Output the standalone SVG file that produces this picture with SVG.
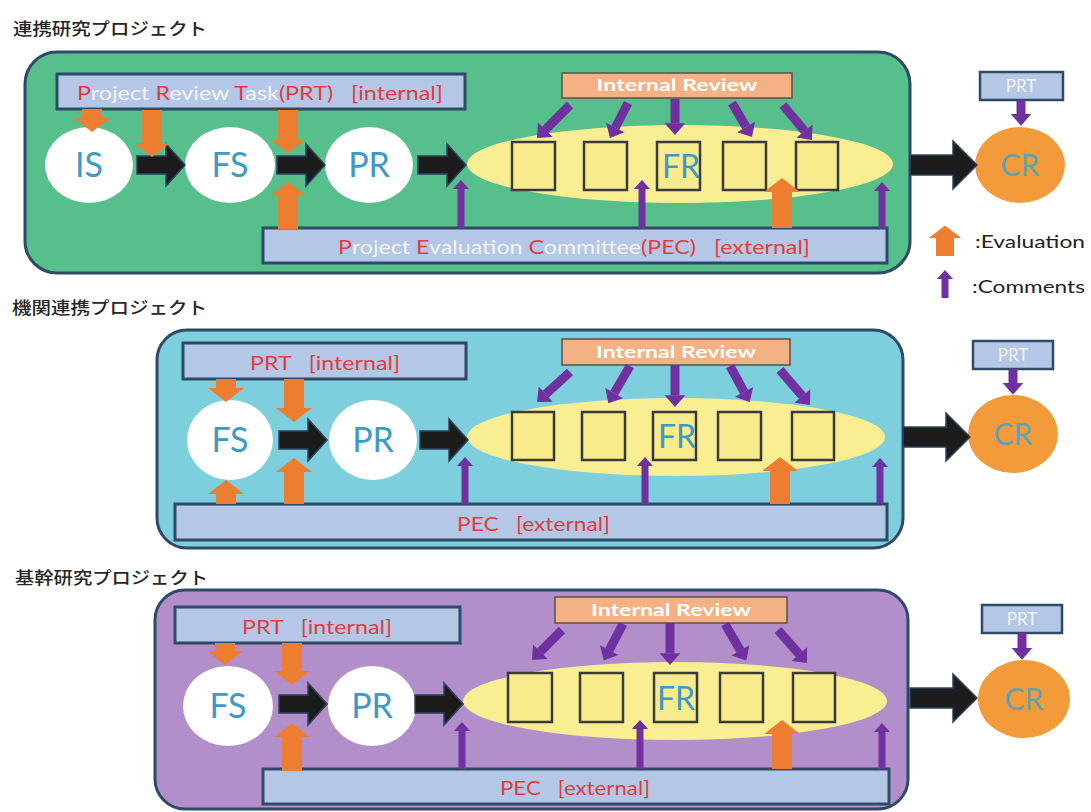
<svg xmlns="http://www.w3.org/2000/svg" xmlns:xlink="http://www.w3.org/1999/xlink" width="1091" height="812" viewBox="0 0 1091 812">
<style>
.title{font-family:"Noto Sans CJK JP","Noto Sans",sans-serif;font-size:17px;font-weight:500;fill:#262626;}
.cont{stroke:#2E4A66;stroke-width:3;}
.bar{fill:#B4C7E7;stroke:#2E4A66;stroke-width:3;}
.sbar{fill:#B4C7E7;stroke:#2E4A66;stroke-width:2.5;}
.ir{fill:#F4B183;stroke:#5C5048;stroke-width:1.5;}
.irt{font-family:Lato,"Liberation Sans",sans-serif;font-size:17px;font-weight:bold;fill:#fff;text-anchor:middle;}
.bt{font-family:Lato,"Liberation Sans",sans-serif;font-size:20px;fill:#E23C3C;white-space:pre;}
.w{fill:#F4F4F4;}
.circ{fill:#fff;}
.ct{font-family:Lato,"Liberation Sans",sans-serif;font-size:34px;fill:#3C9AC6;text-anchor:middle;}
.ell{fill:#F9EF92;}
.box{fill:#F8EB8C;stroke:#3A3A3A;stroke-width:2.5;}
.fr{font-family:Lato,"Liberation Sans",sans-serif;font-size:32px;fill:#3C9AC6;text-anchor:middle;}
.cr{fill:#F39B3A;}
.crt{font-family:Lato,"Liberation Sans",sans-serif;font-size:30px;fill:#5FA3AE;text-anchor:middle;}
.prt{font-family:Lato,"Liberation Sans",sans-serif;font-size:17px;fill:#F4F4F4;text-anchor:middle;}
.blk{fill:#1C1C1C;stroke:#2C4260;stroke-width:1.5;}
.org{stroke:#ED7D31;stroke-width:20;fill:none;marker-end:url(#mo);}
.pur{stroke:#7030A0;stroke-width:7;fill:none;marker-end:url(#mp);}
.pud{stroke:#7030A0;stroke-width:9;fill:none;marker-end:url(#mp);}
.leg{font-family:Lato,"Liberation Sans",sans-serif;font-size:18px;fill:#222;}
</style>
<defs>
<marker id="mo" markerUnits="strokeWidth" markerWidth="0.7" markerHeight="1.8" refX="0" refY="0.9" orient="auto" overflow="visible"><path d="M0,0 L0.7,0.9 L0,1.8 z" fill="#ED7D31"/></marker>
<marker id="mp" markerUnits="strokeWidth" markerWidth="1.3" markerHeight="2.3" refX="0" refY="1.15" orient="auto" overflow="visible"><path d="M0,0 L1.3,1.15 L0,2.3 z" fill="#7030A0"/></marker>
<path id="ba" d="M-48,-9 L-19,-9 L-19,-21 L0,0 L-19,21 L-19,9 L-48,9 z"/>
<path id="bac" d="M-67,-10 L-24,-10 L-24,-24 L0,0 L-24,24 L-24,10 L-67,10 z"/>
</defs>
<rect width="1091" height="812" fill="#fff"/>

<!-- ===== Section 1 ===== -->
<text class="title" x="13" y="35" textLength="194" lengthAdjust="spacingAndGlyphs">連携研究プロジェクト</text>
<g id="s1-container"><rect class="cont" x="25" y="52" width="885" height="221" rx="32" fill="#57BF8C"/></g>
<g id="s1-prt"><rect class="bar" x="57" y="74" width="408" height="35"/>
<text class="bt" xml:space="preserve" x="77" y="100" textLength="366" lengthAdjust="spacingAndGlyphs">P<tspan class="w">roject </tspan>R<tspan class="w">eview </tspan>T<tspan class="w">ask</tspan>(PRT)   [internal]</text></g>
<g id="s1-ir"><rect class="ir" x="562" y="73" width="230" height="25"/><text class="irt" x="677" y="91" textLength="161" lengthAdjust="spacingAndGlyphs">Internal Review</text></g>
<g id="s1-pec"><rect class="bar" x="263" y="228" width="624" height="35"/>
<text class="bt" xml:space="preserve" x="338" y="254" textLength="472" lengthAdjust="spacingAndGlyphs">P<tspan class="w">roject </tspan>E<tspan class="w">valuation </tspan>C<tspan class="w">ommittee</tspan>(PEC)   [external]</text></g>
<g id="s1-is"><ellipse class="circ" cx="89" cy="165" rx="44" ry="38"/><text class="ct" x="89" y="177">IS</text></g>
<g id="s1-fs"><ellipse class="circ" cx="230" cy="165" rx="45" ry="38"/><text class="ct" x="230" y="177">FS</text></g>
<g id="s1-pr"><ellipse class="circ" cx="369" cy="165" rx="44" ry="38"/><text class="ct" x="369" y="177">PR</text></g>
<g id="s1-fr"><ellipse class="ell" cx="680" cy="164" rx="213" ry="39"/>
<rect class="box" x="512" y="142" width="43" height="48"/>
<rect class="box" x="584" y="142" width="43" height="48"/>
<rect class="box" x="657" y="142" width="43" height="48"/>
<rect class="box" x="723" y="142" width="43" height="48"/>
<rect class="box" x="796" y="142" width="42" height="48"/>
<text class="fr" x="681" y="178">FR</text></g>
<g id="s1-crprt"><rect class="sbar" x="980" y="72" width="83" height="28"/><text class="prt" x="1021" y="92">PRT</text></g>
<g id="s1-cr"><ellipse class="cr" cx="1020" cy="165" rx="45" ry="38"/><text class="crt" x="1020" y="176">CR</text></g>

<!-- ===== Section 2 ===== -->
<text class="title" x="12" y="314" textLength="195" lengthAdjust="spacingAndGlyphs">機関連携プロジェクト</text>
<g id="s2-container"><rect class="cont" x="157" y="330" width="746" height="218" rx="30" fill="#7DCFDD"/></g>
<g id="s2-prt"><rect class="bar" x="183" y="343" width="283" height="36"/><text class="bt" xml:space="preserve" x="250" y="370" textLength="150" lengthAdjust="spacingAndGlyphs">PRT   [internal]</text></g>
<g id="s2-ir"><rect class="ir" x="562" y="339" width="228" height="26"/><text class="irt" x="676" y="358" textLength="160" lengthAdjust="spacingAndGlyphs">Internal Review</text></g>
<g id="s2-pec"><rect class="bar" x="175" y="504" width="712" height="36"/><text class="bt" xml:space="preserve" x="457" y="531" textLength="153" lengthAdjust="spacingAndGlyphs">PEC   [external]</text></g>
<g id="s2-fs"><ellipse class="circ" cx="230" cy="440" rx="43" ry="40"/><text class="ct" x="230" y="452">FS</text></g>
<g id="s2-pr"><ellipse class="circ" cx="373" cy="440" rx="44" ry="40"/><text class="ct" x="373" y="452">PR</text></g>
<g id="s2-fr"><ellipse class="ell" cx="676" cy="437" rx="209" ry="39"/>
<rect class="box" x="512" y="412" width="42" height="48"/>
<rect class="box" x="582" y="412" width="43" height="48"/>
<rect class="box" x="653" y="412" width="43" height="48"/>
<rect class="box" x="718" y="412" width="43" height="48"/>
<rect class="box" x="792" y="412" width="42" height="48"/>
<text class="fr" x="677" y="448">FR</text></g>
<g id="s2-crprt"><rect class="sbar" x="973" y="341" width="80" height="28"/><text class="prt" x="1013" y="361">PRT</text></g>
<g id="s2-cr"><ellipse class="cr" cx="1013" cy="434" rx="45" ry="39"/><text class="crt" x="1013" y="445">CR</text></g>

<!-- ===== Section 3 ===== -->
<text class="title" x="15" y="584" textLength="193" lengthAdjust="spacingAndGlyphs">基幹研究プロジェクト</text>
<g id="s3-container"><rect class="cont" x="155" y="590" width="753" height="219" rx="30" fill="#B28FCB"/></g>
<g id="s3-prt"><rect class="bar" x="175" y="607" width="285" height="36"/><text class="bt" xml:space="preserve" x="242" y="634" textLength="150" lengthAdjust="spacingAndGlyphs">PRT   [internal]</text></g>
<g id="s3-ir"><rect class="ir" x="555" y="597" width="232" height="26"/><text class="irt" x="671" y="616" textLength="160" lengthAdjust="spacingAndGlyphs">Internal Review</text></g>
<g id="s3-pec"><rect class="bar" x="263" y="769" width="626" height="35"/><text class="bt" xml:space="preserve" x="500" y="795" textLength="150" lengthAdjust="spacingAndGlyphs">PEC   [external]</text></g>
<g id="s3-fs"><ellipse class="circ" cx="228" cy="706" rx="45" ry="40"/><text class="ct" x="228" y="718">FS</text></g>
<g id="s3-pr"><ellipse class="circ" cx="372" cy="706" rx="44" ry="40"/><text class="ct" x="372" y="718">PR</text></g>
<g id="s3-fr"><ellipse class="ell" cx="675" cy="701" rx="212" ry="39"/>
<rect class="box" x="508" y="673" width="44" height="49"/>
<rect class="box" x="580" y="673" width="43" height="49"/>
<rect class="box" x="654" y="673" width="43" height="49"/>
<rect class="box" x="720" y="673" width="43" height="49"/>
<rect class="box" x="793" y="673" width="42" height="49"/>
<text class="fr" x="676" y="710">FR</text></g>
<g id="s3-crprt"><rect class="sbar" x="982" y="605" width="80" height="28"/><text class="prt" x="1022" y="625">PRT</text></g>
<g id="s3-cr"><ellipse class="cr" cx="1024" cy="699" rx="46" ry="39"/><text class="crt" x="1024" y="710">CR</text></g>

<!-- ===== Legend ===== -->
<g id="legend">
<line x1="945" y1="256" x2="945" y2="238" stroke="#ED7D31" stroke-width="18" marker-end="url(#mo)"/>
<text class="leg" x="975" y="248" textLength="110" lengthAdjust="spacingAndGlyphs">:Evaluation</text>
<line class="pur" x1="945" y1="298" x2="945" y2="279"/>
<text class="leg" x="972" y="293" textLength="113" lengthAdjust="spacingAndGlyphs">:Comments</text>
</g>

<!-- ===== Connectors ===== -->
<g id="connectors">
<!-- section 1 -->
<use href="#ba" xlink:href="#ba" class="blk" x="185" y="165"/>
<use href="#ba" xlink:href="#ba" class="blk" x="325" y="165"/>
<use href="#ba" xlink:href="#ba" class="blk" x="466" y="165"/>
<use href="#bac" xlink:href="#bac" class="blk" x="977" y="165"/>
<line class="org" x1="92" y1="109" x2="92" y2="118"/>
<line class="org" x1="152" y1="110" x2="152" y2="143"/>
<line class="org" x1="288" y1="110" x2="288" y2="139"/>
<line class="org" x1="288" y1="229" x2="288" y2="196"/>
<line class="org" x1="782" y1="228" x2="782" y2="192"/>
<line class="pur" x1="461" y1="228" x2="461" y2="189"/>
<line class="pur" x1="642" y1="228" x2="642" y2="189"/>
<line class="pur" x1="882" y1="228" x2="882" y2="191"/>
<line class="pud" x1="570" y1="105" x2="545.3" y2="129.7"/>
<line class="pud" x1="628" y1="103" x2="615.3" y2="127.6"/>
<line class="pud" x1="675" y1="99" x2="675" y2="123.3"/>
<line class="pud" x1="732" y1="103" x2="746.1" y2="126.9"/>
<line class="pud" x1="783" y1="105" x2="804.5" y2="131"/>
<line class="pud" x1="1021" y1="100" x2="1021" y2="114"/>
<!-- section 2 -->
<use href="#ba" xlink:href="#ba" class="blk" x="327" y="440"/>
<use href="#ba" xlink:href="#ba" class="blk" x="468" y="440"/>
<use href="#bac" xlink:href="#bac" class="blk" x="970" y="437"/>
<line class="org" x1="226" y1="379" x2="226" y2="388"/>
<line class="org" x1="294" y1="379" x2="294" y2="408"/>
<line class="org" x1="226" y1="504" x2="226" y2="494"/>
<line class="org" x1="294" y1="504" x2="294" y2="472"/>
<line class="org" x1="780" y1="504" x2="780" y2="471"/>
<line class="pur" x1="465" y1="504" x2="465" y2="466"/>
<line class="pur" x1="645" y1="504" x2="645" y2="466"/>
<line class="pur" x1="880" y1="504" x2="880" y2="467"/>
<line class="pud" x1="570" y1="372" x2="545.7" y2="394.1"/>
<line class="pud" x1="630" y1="366" x2="614.2" y2="393.1"/>
<line class="pud" x1="675" y1="365" x2="675" y2="395.3"/>
<line class="pud" x1="730" y1="366" x2="744.1" y2="391.9"/>
<line class="pud" x1="780" y1="370" x2="802.4" y2="396.1"/>
<line class="pud" x1="1013" y1="369" x2="1013" y2="383"/>
<!-- section 3 -->
<use href="#ba" xlink:href="#ba" class="blk" x="327" y="704"/>
<use href="#ba" xlink:href="#ba" class="blk" x="463" y="704"/>
<use href="#bac" xlink:href="#bac" class="blk" x="977" y="698"/>
<line class="org" x1="225" y1="643" x2="225" y2="651"/>
<line class="org" x1="292" y1="643" x2="292" y2="671"/>
<line class="org" x1="292" y1="771" x2="292" y2="737"/>
<line class="org" x1="782" y1="769" x2="782" y2="734"/>
<line class="pur" x1="462" y1="769" x2="462" y2="731"/>
<line class="pur" x1="640" y1="769" x2="640" y2="729"/>
<line class="pur" x1="882" y1="769" x2="882" y2="732"/>
<line class="pud" x1="562" y1="630" x2="540.3" y2="651.7"/>
<line class="pud" x1="623" y1="624" x2="609.2" y2="650.1"/>
<line class="pud" x1="670" y1="623" x2="670" y2="653.3"/>
<line class="pud" x1="725" y1="624" x2="740.4" y2="650.4"/>
<line class="pud" x1="778" y1="630" x2="799.3" y2="654.2"/>
<line class="pud" x1="1022" y1="633" x2="1022" y2="648"/>
</g>
</svg>
